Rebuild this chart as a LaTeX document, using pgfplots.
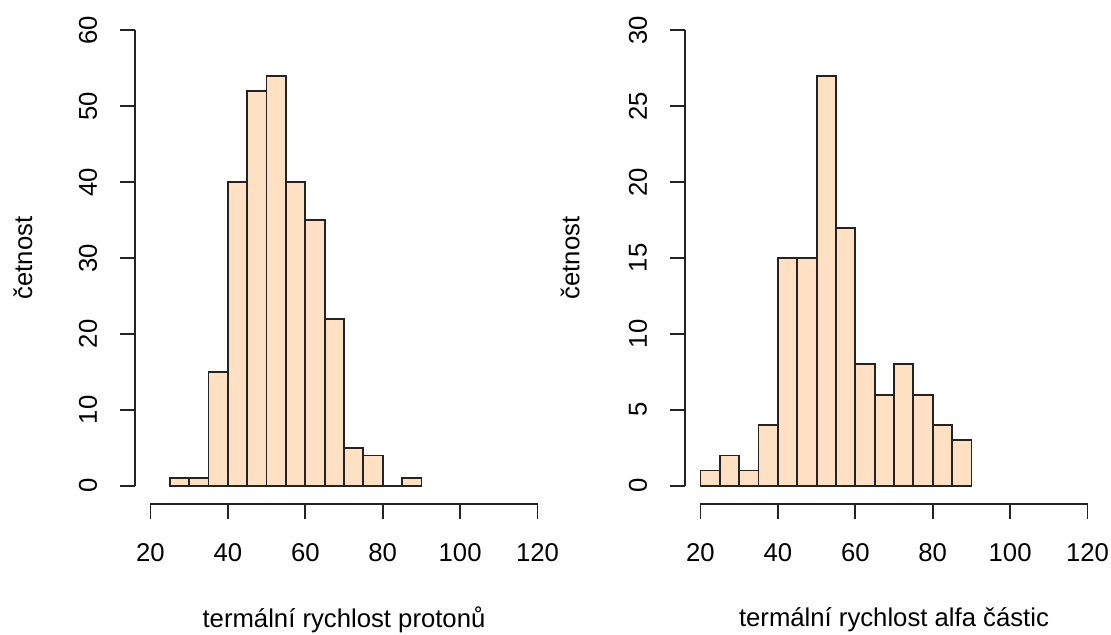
\documentclass[border=0pt]{standalone}
\usepackage{fontspec}
\setmainfont{Liberation Sans}
\usepackage{pgfplots}
\pgfplotsset{compat=1.18}
\definecolor{bisque}{RGB}{255,224,194}
\definecolor{rline}{RGB}{35,35,35}
\pgfplotsset{
 rhist/.style={
  scale only axis, width=418bp, height=492bp,
  xmin=16, xmax=124,
  axis x line*=bottom, axis y line*=left,
  axis line style={draw=none},
  xtick={20,40,...,120},
  tick align=outside, major tick length=15bp,
  tick style={rline, line width=1.8bp},
  font=\fontsize{25.7bp}{30bp}\selectfont,
  /pgf/number format/assume math mode=true,
  xticklabel style={anchor=center, yshift=-34bp},
  yticklabel style={xshift=-32bp, anchor=center, rotate=90},
  ylabel={četnost},
  clip=false,
 }
}
\pgfplotstableread{
x y
25 1
30 1
35 15
40 40
45 52
50 54
55 40
60 35
65 22
70 5
75 4
80 0
85 1
90 0
}\protons
\pgfplotstableread{
x y
20 1
25 2
30 1
35 4
40 15
45 15
50 27
55 17
60 8
65 6
70 8
75 6
80 4
85 3
90 0
}\alphas
\begin{document}
\begin{tikzpicture}
\useasboundingbox (0,0) rectangle (1111bp,635bp);
\begin{axis}[rhist, at={(135bp,131bp)}, anchor=south west,
  ymin=-2.4, ymax=62.4, ytick={0,10,...,60},
  xlabel={termální rychlost protonů},
  xlabel style={at={(axis description cs:0.5,-0.236)}, anchor=center},
  ylabel style={at={(axis description cs:-0.268,0.5)}, anchor=center},
]
\addplot[ybar interval, fill=bisque, draw=none] table[x=x,y=y] {\protons};
\addplot[ybar interval, fill=none, draw=rline, line width=1.8bp] table[x=x,y=y] {\protons};
\draw[rline, line width=1.8bp] (axis cs:20,-2.4) -- (axis cs:120,-2.4);
\draw[rline, line width=1.8bp] (axis cs:16,0) -- (axis cs:16,60);
\end{axis}
\begin{axis}[rhist, at={(685bp,131bp)}, anchor=south west,
  ymin=-1.2, ymax=31.2, ytick={0,5,...,30},
  xlabel={termální rychlost alfa částic},
  xlabel style={at={(axis description cs:0.5,-0.236)}, anchor=center},
  ylabel style={at={(axis description cs:-0.275,0.5)}, anchor=center},
]
\addplot[ybar interval, fill=bisque, draw=none] table[x=x,y=y] {\alphas};
\addplot[ybar interval, fill=none, draw=rline, line width=1.8bp] table[x=x,y=y] {\alphas};
\draw[rline, line width=1.8bp] (axis cs:20,-1.2) -- (axis cs:120,-1.2);
\draw[rline, line width=1.8bp] (axis cs:16,0) -- (axis cs:16,30);
\end{axis}
\end{tikzpicture}
\end{document}
